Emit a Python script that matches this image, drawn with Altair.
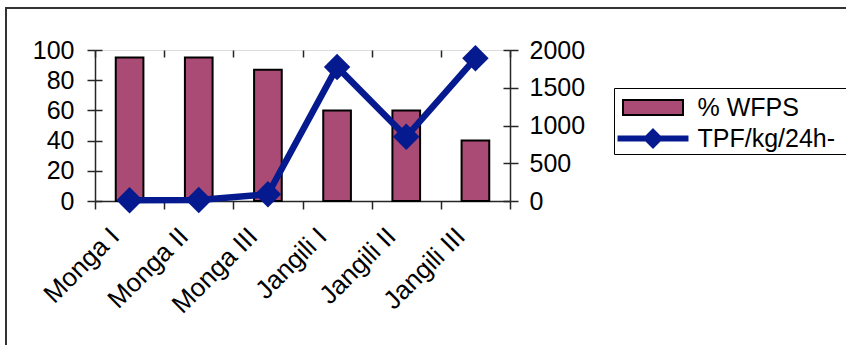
import altair as alt
import pandas as pd

# Sampling sites, water-filled pore space (%) and TPF per kg per 24 h
sites = ["Monga I", "Monga II", "Monga III", "Jangili I", "Jangili II", "Jangili III"]
wfps = [95, 95, 87, 60, 60, 40]
tpf = [10, 12, 90, 1775, 850, 1890]
series_names = ["% WFPS", "TPF/kg/24h-"]
wfps_ticks = [0, 20, 40, 60, 80, 100]
tpf_ticks = [0, 500, 1000, 1500, 2000]

BAR = "#A94B75"
NAVY = "#061A8F"
INK = "#262626"
FONT = "Liberation Sans"
FS = 25

df = pd.DataFrame({"site": sites, "wfps": wfps, "tpf": tpf})

axis_common = dict(
    title=None,
    labelFont=FONT,
    labelFontSize=FS,
    labelColor="black",
    domainColor=INK,
    domainWidth=1.5,
    tickColor=INK,
    tickWidth=1.5,
    tickSize=8,
    grid=True,
    gridColor=INK,
    gridWidth=1.5,
    gridDash=[7, 2000],
)

x_enc = alt.X(
    "site:N",
    sort=sites,
    scale=alt.Scale(paddingInner=0, paddingOuter=0),
    axis=alt.Axis(
        labelAngle=-45,
        labelAlign="right",
        labelBaseline="middle",
        labelPadding=23,
        labelOffset=-15,
        tickBand="extent",
        **{**axis_common, "labelFontSize": 26},
    ),
)

y_left = alt.Y(
    "wfps:Q",
    scale=alt.Scale(domain=[0, 100], nice=False),
    axis=alt.Axis(values=wfps_ticks, orient="left", labelPadding=13, **axis_common),
)
y_right = alt.Y(
    "tpf:Q",
    scale=alt.Scale(domain=[0, 2000], nice=False),
    axis=alt.Axis(
        values=tpf_ticks, orient="right", format="d", labelPadding=11, **axis_common
    ),
)

is_bar = "datum.value == '% WFPS'"
legend = alt.Legend(
    orient="none",
    legendX=519,
    legendY=38,
    direction="vertical",
    # an invisible dash to the right keeps the legend box open past the edge
    title="\u2014\u2014",
    titleOrient="right",
    titleFontSize=FS,
    titleOpacity=0,
    titlePadding=0,
    padding=2,
    rowPadding=0,
    strokeColor="black",
    fillColor="white",
    cornerRadius=0,
    symbolSize=1089,
    symbolOffset=19.5,
    symbolOpacity=1,
    symbolStrokeWidth=2,
    symbolType=alt.ExprRef(
        expr=is_bar
        + " ? 'M-1.818,-0.455H1.818V0.455H-1.818Z'"
        + " : 'M-2.09,-0.121H2.09V0.121H-2.09ZM0,-0.545L0.545,0L0,0.545L-0.545,0Z'"
    ),
    symbolStrokeColor=alt.ExprRef(expr=is_bar + " ? 'black' : '" + NAVY + "'"),
    labelFont=FONT,
    labelFontSize=FS,
    labelColor="black",
    labelOffset=27,
    labelLimit=400,
)

base = alt.Chart(df).encode(x=x_enc)

bar_fill = (
    base.transform_calculate(series="'% WFPS'")
    .mark_bar(width=alt.RelativeBandSize(0.4), strokeWidth=0)
    .encode(
        y=y_left,
        fill=alt.Fill(
            "series:N",
            scale=alt.Scale(domain=series_names, range=[BAR, NAVY]),
            legend=legend,
        ),
    )
)
bar_edge = base.mark_bar(
    width=alt.RelativeBandSize(0.4), fillOpacity=0, stroke="black", strokeWidth=2
).encode(y=y_left)

line = base.mark_line(color=NAVY, strokeWidth=6.5).encode(y=y_right)
markers = base.mark_point(
    shape="diamond", filled=True, size=700, color=NAVY, opacity=1
).encode(y=y_right)

# outer chart frame
frame = (
    alt.Chart(alt.Data(values=[{}]))
    .mark_rect(fill="transparent", stroke="#333333", strokeWidth=2)
    .encode(x=alt.value(-89), x2=alt.value(800), y=alt.value(-42), y2=alt.value(330))
)

chart = (
    alt.layer(frame, alt.layer(bar_fill, bar_edge), alt.layer(line, markers))
    .resolve_scale(y="independent")
    .properties(
        width=415,
        height=151,
        autosize=alt.AutoSizeParams(type="none"),
        padding={"left": 95, "top": 50, "right": 336, "bottom": 144},
    )
    .configure_view(stroke="#9a9a9a", strokeWidth=2)
    .configure(background="white")
)

chart.save("out.html", embed_options={"renderer": "svg", "actions": False})
